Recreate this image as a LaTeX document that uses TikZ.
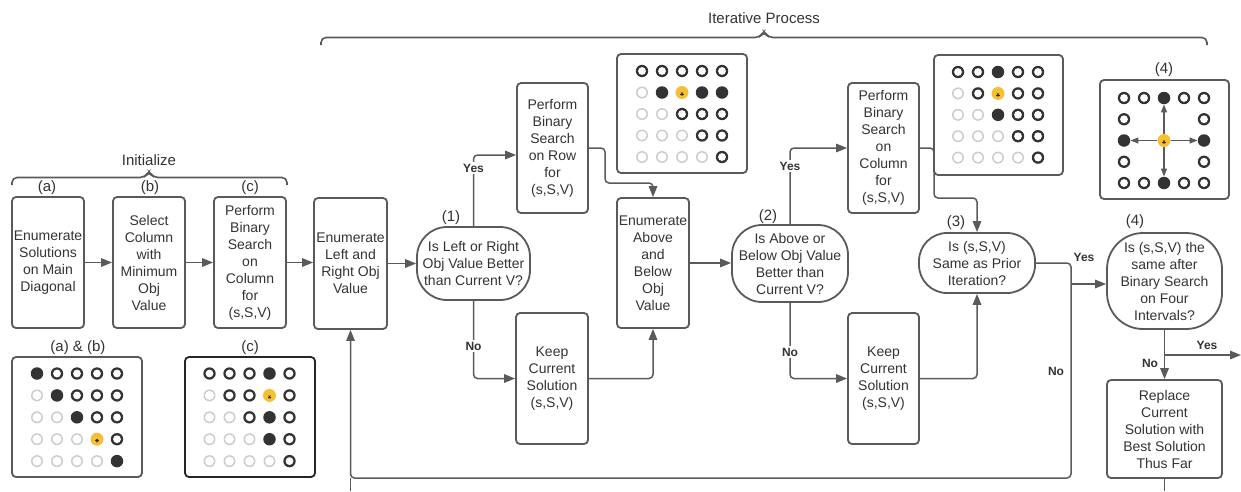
\documentclass[tikz,border=0pt]{standalone}
\usepackage{fontspec}
\setmainfont{Liberation Sans}
\usetikzlibrary{arrows.meta,calc}
\definecolor{ln}{HTML}{5A5A5A}
\definecolor{tx}{HTML}{333333}
\definecolor{dk}{HTML}{333333}
\definecolor{lt}{HTML}{CDCDCD}
\definecolor{yl}{HTML}{F6BF35}
\tikzset{
  box/.style={draw=ln, line width=1.8pt, rounded corners=4pt, align=center, text=tx,
    font=\fontsize{14}{17}\selectfont, inner sep=0pt},
  dec/.style={box, rounded corners=#1},
  conn/.style={draw=ln, line width=1.5pt, rounded corners=4pt},
  arr/.style={conn, -{Triangle[length=11pt,width=8.5pt]}},
  garr/.style={draw=ln, line width=1.3pt, -{Triangle[length=8pt,width=6pt]}},
  lbl/.style={font=\fontsize{15}{17}\selectfont, text=tx, inner sep=0pt},
  yn/.style={font=\bfseries\fontsize{12}{14}\selectfont, text=tx, inner sep=1.5pt},
  frame/.style={draw=ln, line width=1.8pt, rounded corners=4pt, minimum width=130pt, minimum height=120pt, inner sep=0pt},
  dotF/.style={circle, fill=dk, minimum size=12.5pt, inner sep=0pt},
  dotO/.style={circle, fill=dk, minimum size=12.4pt, inner sep=0pt,
    path picture={\fill[white] (path picture bounding box.center) circle (3.9pt);}},
  dotL/.style={circle, fill=lt, minimum size=12pt, inner sep=0pt,
    path picture={\fill[white] (path picture bounding box.center) circle (4.5pt);}},
  dotN/.style={inner sep=0pt, minimum size=12pt},
  dotY/.style={circle, fill=yl, minimum size=13pt, inner sep=0pt,
    path picture={\foreach \aa in {0,60,120}
      \draw[dk, line width=0.7pt] ([yshift=-1.5pt]path picture bounding box.center) ++(\aa:1.8pt) -- ++(\aa+180:3.6pt);}},
}
\newcommand\dotgrid[5]{%
  \foreach \t [count=\i from 0] in {#5} {%
    \pgfmathtruncatemacro\cc{mod(\i,5)}%
    \pgfmathtruncatemacro\rr{div(\i,5)}%
    \node[dot\t] (#1-\i) at ({#2+20*\cc},{#3+#4*\rr}) {};
  }}
\begin{document}
\begin{tikzpicture}[x=1pt,y=-1pt]
\useasboundingbox (0,0) rectangle (1241,491);

% braces
\node[lbl] (tInit) at (149,160) {Initialize};
\draw[ln, line width=1.6pt, rounded corners=5pt] (12,185) -- (12,177.5) -- (145,177.5) -- (149,171) -- (153,177.5) -- (287,177.5) -- (287,185);
\node[lbl] (tIter) at (764,18) {Iterative Process};
\draw[ln, line width=1.6pt, rounded corners=5pt] (321,45) -- (321,37.5) -- (760,37.5) -- (764,31) -- (768,37.5) -- (1207,37.5) -- (1207,45);

% initialize boxes
\node[box, minimum width=72pt, minimum height=131pt] (a) at (48,262.5) {Enumerate\\Solutions\\on Main\\Diagonal};
\node[box, minimum width=72pt, minimum height=131pt] (b) at (149,262.5) {Select\\Column\\with\\Minimum\\Obj\\Value};
\node[box, minimum width=72pt, minimum height=131pt] (c) at (250,262.5) {Perform\\Binary\\Search\\on\\Column\\for\\(s,S,V)};
\node[lbl] (la) at (47,188) {(a)};
\node[lbl] (lb) at (150,188) {(b)};
\node[lbl] (lc) at (250,188) {(c)};

% iterative boxes
\node[box, minimum width=73pt, minimum height=131pt] (enumLR) at (350.5,263.5) {Enumerate\\Left and\\Right Obj\\Value};
\node[dec=30pt, minimum width=113pt, minimum height=73pt] (d1) at (473.5,263.5) {Is Left or Right\\Obj Value Better\\than Current V?};
\node[box, minimum width=71pt, minimum height=130pt] (rowBS) at (552.5,148) {Perform\\Binary\\Search\\on Row\\for\\(s,S,V)};
\node[box, minimum width=72pt, minimum height=131pt] (keep1) at (552,378.5) {Keep\\Current\\Solution\\(s,S,V)};
\node[box, minimum width=72pt, minimum height=130pt] (enumAB) at (653,263) {Enumerate\\Above\\and\\Below\\Obj\\Value};
\node[dec=30pt, minimum width=116pt, minimum height=77pt] (d2) at (790,263.5) {Is Above or\\Below Obj Value\\Better than\\Current V?};
\node[box, minimum width=71pt, minimum height=130pt] (colBS) at (883.5,148) {Perform\\Binary\\Search\\on\\Column\\for\\(s,S,V)};
\node[box, minimum width=71pt, minimum height=131pt] (keep2) at (883.5,378.5) {Keep\\Current\\Solution\\(s,S,V)};
\node[dec=28pt, minimum width=116pt, minimum height=60pt] (d3) at (977,263) {Is (s,S,V)\\Same as Prior\\Iteration?};
\node[dec=36pt, minimum width=115pt, minimum height=96pt] (d4) at (1164.5,281) {Is (s,S,V) the\\same after\\Binary Search\\on Four\\Intervals?};
\node[box, minimum width=115pt, minimum height=98pt] (repl) at (1164.5,429) {Replace\\Current\\Solution with\\Best Solution\\Thus Far};

\node[lbl] (n1) at (451,218) {(1)};
\node[lbl] (n2) at (768,217) {(2)};
\node[lbl] (n3) at (956,223) {(3)};
\node[lbl] (n4) at (1135,222) {(4)};

% connectors
\coordinate (r1) at (605,183);
\coordinate (r2) at (934,198);
\coordinate (j1) at (1071,478);
\coordinate (e1) at (1241,355);
\coordinate (bot) at (0,491);
\draw[arr] (a) -- (b);
\draw[arr] (b) -- (c);
\draw[arr] (c.east) -- (c.east -| enumLR.west);
\draw[arr] (enumLR.east |- d1.west) -- (d1.west);
\draw[arr] (d1.north) |- ([yshift=-7pt]rowBS.west);
\draw[arr] (d1.south) |- (keep1.west);
\draw[arr] (rowBS.east) -| (r1) -| (enumAB.north);
\draw[arr] (keep1.east) -| (enumAB.south);
\draw[arr] (enumAB.east) -- (enumAB.east -| d2.west);
\draw[arr] (d2.north) |- (colBS.west);
\draw[arr] (d2.south) |- (keep2.west);
\draw[arr] (colBS.east) -| (r2) -| (d3.north);
\draw[arr] (keep2.east) -| (d3.south);
\draw[arr] (d3.east) -| (j1) -| (enumLR.south);
\draw[arr] ([yshift=-3pt]d4.west -| j1) -- ([yshift=-3pt]d4.west);
\draw[arr] (d4.south) -- (repl.north);
\draw[arr] (d4.south |- e1) -- (e1);
\draw[conn] (repl.south) -- (repl.south |- bot);
\draw[conn] (enumLR.south |- j1) -- (enumLR.south |- bot);

\node[yn, fill=white] (y1) at (473.5,168) {Yes};
\node[yn, fill=white] (no1) at (473.5,346) {No};
\node[yn, fill=white] (y2) at (790,166) {Yes};
\node[yn, fill=white] (no2) at (790,352) {No};
\node[yn] (y3) at (1084,257) {Yes};
\node[yn] (no3) at (1056,371) {No};
\node[yn] (no4) at (1150,363) {No};
\node[yn] (y4) at (1207,345) {Yes};

% grids
\node[lbl] (lab) at (78,348) {(a) \& (b)};
\node[lbl] (lcc) at (250,348) {(c)};
\node[frame] (fAB) at (77,417) {};
\node[frame, draw=black!85] (fC) at (250,417) {};
\node[frame, minimum height=119pt] (fRow) at (682,113.5) {};
\node[frame, minimum width=129pt] (fCol) at (998.5,115) {};
\node[frame, minimum width=129pt, minimum height=119pt] (f4) at (1164.5,139.5) {};
\node[lbl] (l4) at (1164,70) {(4)};

\dotgrid{gAB}{37}{373.5}{21.9}{F,O,O,O,O, L,F,O,O,O, L,L,F,O,O, L,L,L,Y,O, L,L,L,L,F}
\dotgrid{gC}{209.5}{373.5}{21.9}{O,O,O,F,O, L,O,O,Y,O, L,L,O,F,O, L,L,L,F,O, L,L,L,L,O}
\dotgrid{gR}{642}{71}{21.5}{O,O,O,O,O, L,F,Y,F,F, L,L,O,O,O, L,L,L,O,O, L,L,L,L,O}
\dotgrid{gK}{958}{72}{21.4}{O,O,F,O,O, L,O,Y,O,O, L,L,F,O,O, L,L,L,O,O, L,L,L,L,O}
\dotgrid{g4}{1124}{98}{21.25}{O,O,F,O,O, O,N,N,N,O, F,N,Y,N,F, O,N,N,N,O, O,O,F,O,O}
\draw[garr] (g4-12) -- (g4-2);
\draw[garr] (g4-12) -- (g4-22);
\draw[garr] (g4-12) -- (g4-10);
\draw[garr] (g4-12) -- (g4-14);
\end{tikzpicture}
\end{document}
